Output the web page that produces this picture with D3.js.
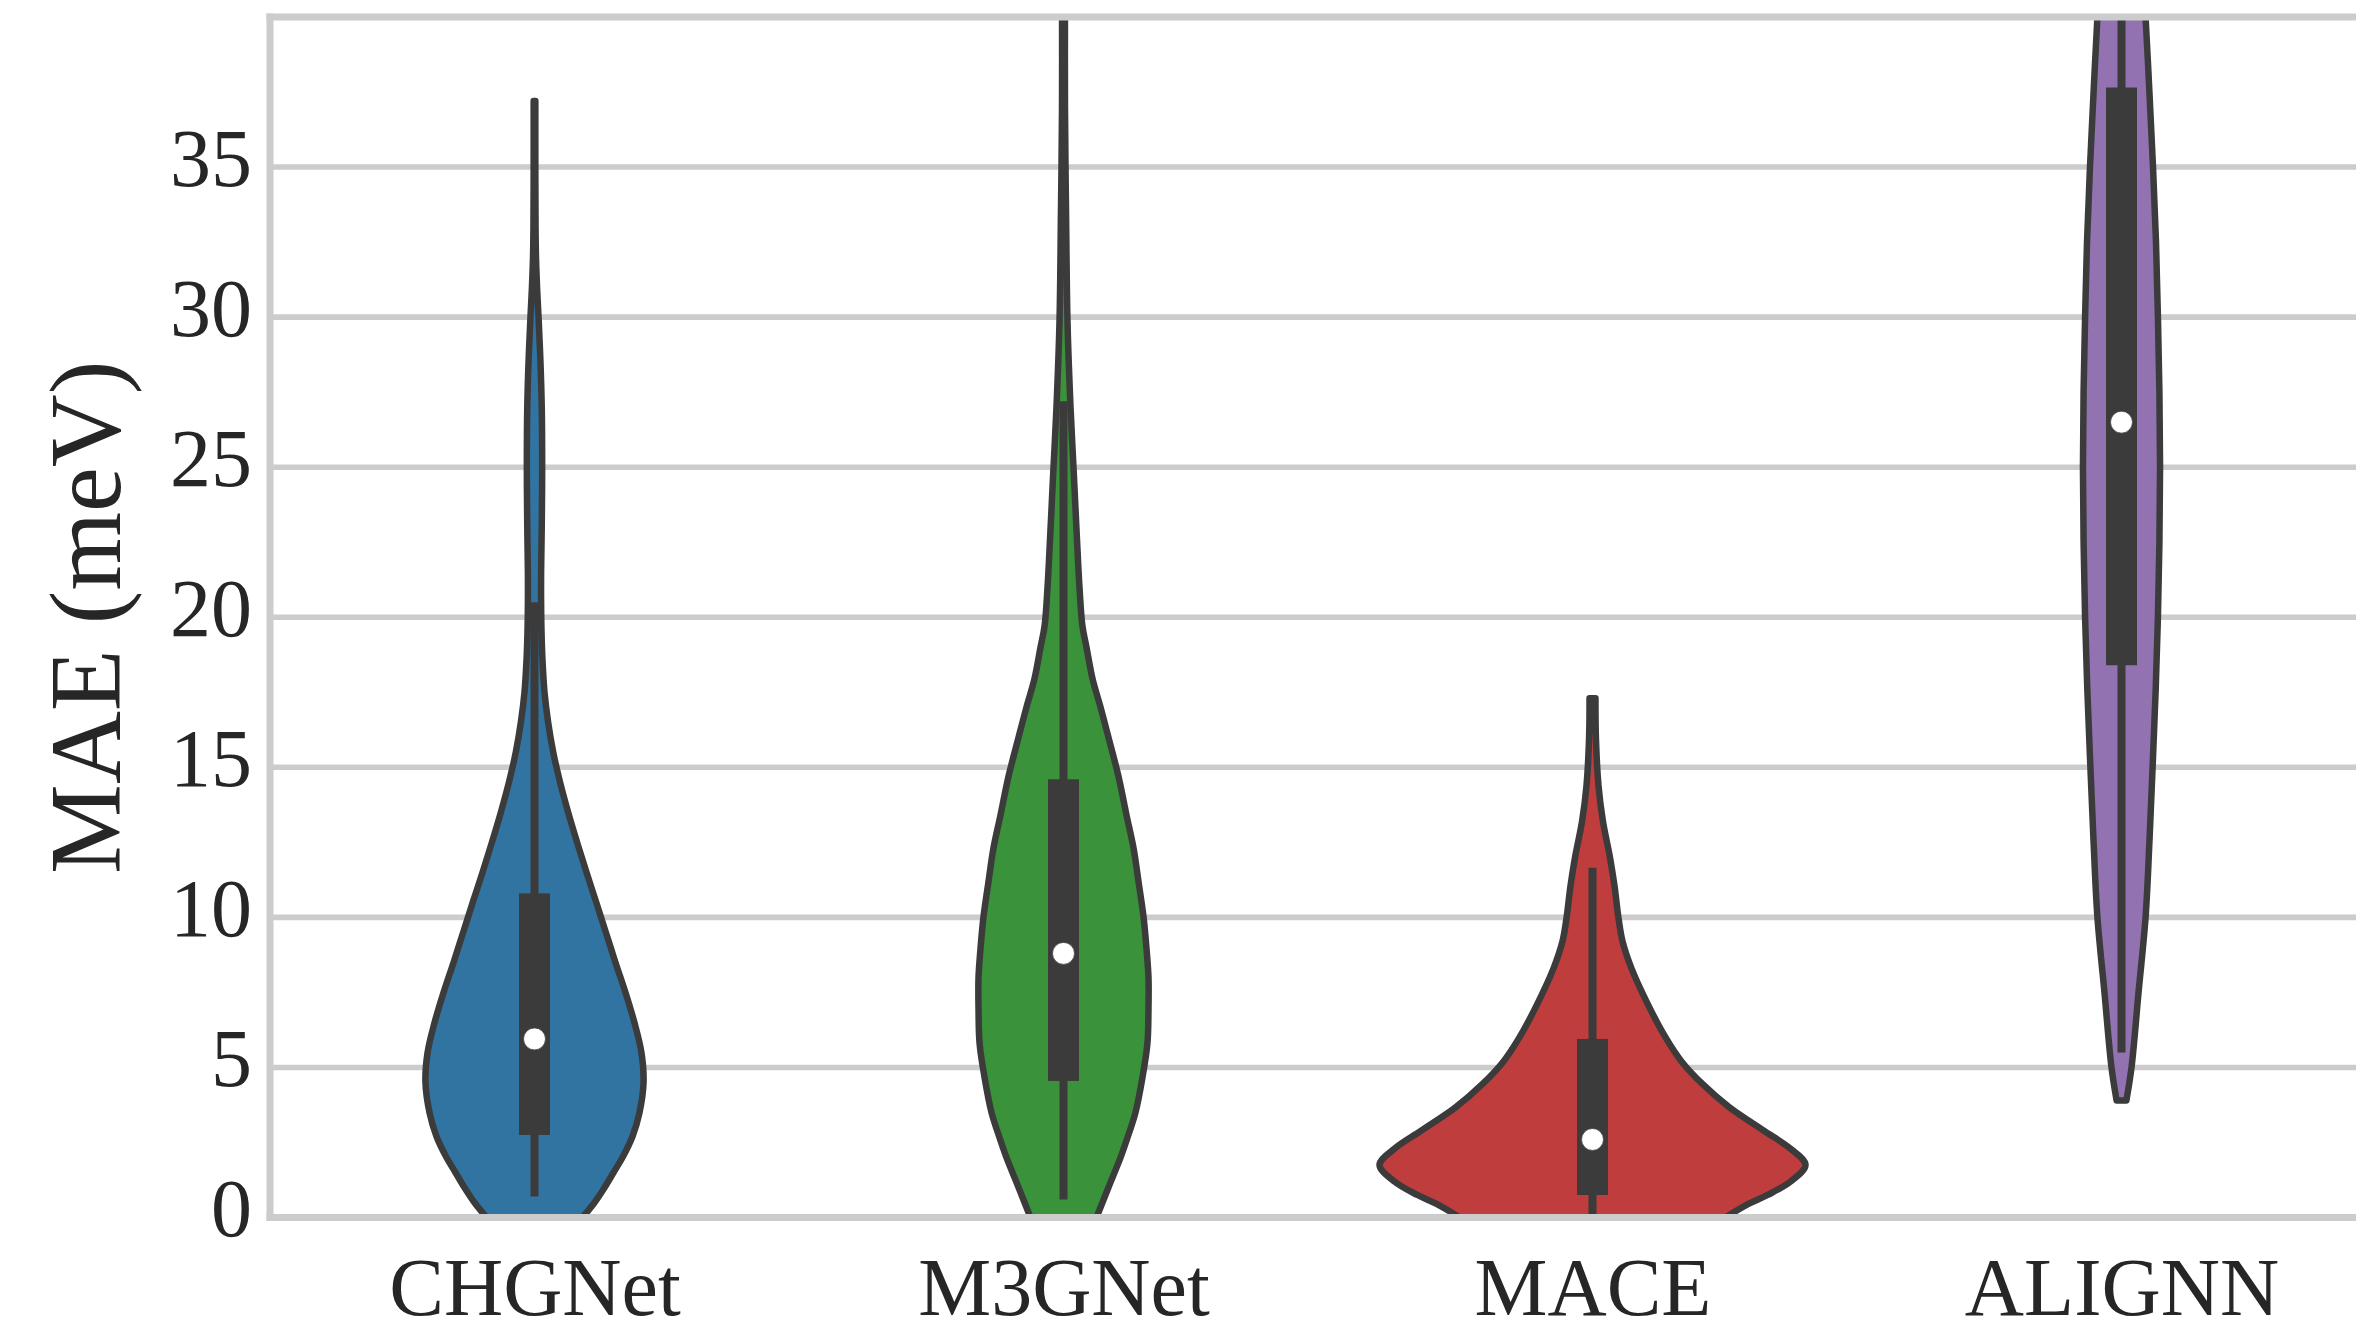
<!DOCTYPE html>
<html>
<head>
<meta charset="utf-8">
<script src="https://cdn.jsdelivr.net/npm/d3@7"></script>
<style>
  html, body { margin: 0; padding: 0; background: #ffffff; }
  svg { display: block; }
</style>
</head>
<body>
<svg id="chart" width="2356" height="1323"></svg>
<script>
// Models shown on the x axis
const models = ["CHGNet", "M3GNet", "MACE", "ALIGNN"];
const yTicks = [0, 5, 10, 15, 20, 25, 30, 35];

// Box summary per model (meV)
const q1 = [2.75, 4.55, 0.75, 18.4];
const medians = [5.95, 8.8, 2.6, 26.5];
const q3 = [10.8, 14.6, 5.95, 37.65];
const whiskerLow = [0.7, 0.6, 0.1, 5.5];
const whiskerHigh = [20.5, 27.2, 11.65, 43];

// Kernel density profiles: [MAE (meV), relative density]
const chgnetDensity = [
  [0, 0.225], [0.5, 0.282], [1, 0.329], [1.5, 0.371], [2, 0.413], [2.7, 0.46],
  [3.5, 0.493], [4.5, 0.512], [5.5, 0.502], [6.5, 0.469], [7.5, 0.427], [8.5, 0.38],
  [9.5, 0.335], [10.5, 0.29], [11.5, 0.244], [12.5, 0.2], [13.5, 0.158], [14.5, 0.12],
  [15.5, 0.088], [16.5, 0.064], [17.5, 0.047], [18.5, 0.038], [19.5, 0.033],
  [20.5, 0.031], [21.5, 0.031], [23, 0.034], [25, 0.036], [27, 0.034], [28.5, 0.028],
  [30, 0.019], [31, 0.012], [32, 0.007], [33, 0.005], [35, 0.004], [37.2, 0.004]
];
const m3gnetDensity = [
  [0, 0.155], [1, 0.211], [2, 0.268], [2.57, 0.296], [3.5, 0.338], [4.68, 0.371],
  [5.8, 0.394], [6.94, 0.399], [8, 0.399], [8.93, 0.39], [10, 0.376], [11.2, 0.352],
  [12.3, 0.329], [13.4, 0.296], [14.7, 0.258], [16, 0.211], [17, 0.174], [17.96, 0.136],
  [19, 0.108], [19.7, 0.089], [21, 0.075], [22.2, 0.066], [24.7, 0.049], [27, 0.033],
  [29.8, 0.019], [33.5, 0.012], [37, 0.007], [41, 0.007]
];
const maceDensity = [
  [0, 0.624], [0.45, 0.732], [0.75, 0.822], [1.2, 0.93], [1.75, 1.0], [2.29, 0.93],
  [2.9, 0.803], [3.67, 0.643], [4.45, 0.516], [5.2, 0.418], [6.0, 0.343], [7.06, 0.263],
  [8.3, 0.183], [9.2, 0.141], [9.98, 0.122], [11.06, 0.103], [12.0, 0.082], [13.2, 0.049],
  [14.4, 0.028], [16.0, 0.016], [17.3, 0.014]
];
const alignnDensity = [
  [3.9, 0.023], [5, 0.047], [7.5, 0.08], [10, 0.113], [12.5, 0.131], [15, 0.146],
  [17.5, 0.16], [20, 0.171], [22.5, 0.178], [25, 0.181], [27.5, 0.178], [30, 0.171],
  [32.5, 0.162], [35, 0.148], [37.5, 0.131], [40, 0.113], [42, 0.094], [43, 0.085]
];
const densities = [chgnetDensity, m3gnetDensity, maceDensity, alignnDensity];

// Palette
const fills = ["#3274a1", "#3a923a", "#c03d3e", "#9372b2"];
const ink = "#3b3b3b";
const gridColor = "#cccccc";
const textColor = "#262626";
const fontFamily = "'Liberation Serif', 'Times New Roman', Times, serif";

// Layout
const plot = { left: 270, right: 2386, top: 17, bottom: 1217.5 };

const svg = d3.select("#chart");

const x = d3.scalePoint().domain(models).range([plot.left, plot.right]).padding(0.5);
const y = d3.scaleLinear().domain([0, 40]).range([plot.bottom, plot.top]);
const halfWidth = d3.scaleLinear().domain([0, 1]).range([0, 213]);

svg.append("defs").append("clipPath").attr("id", "plot-clip")
  .append("rect")
  .attr("x", plot.left).attr("y", plot.top)
  .attr("width", plot.right - plot.left).attr("height", plot.bottom - plot.top);

// Horizontal grid
svg.append("g")
  .selectAll("line")
  .data(yTicks)
  .join("line")
  .attr("x1", plot.left).attr("x2", plot.right)
  .attr("y1", d => y(d)).attr("y2", d => y(d))
  .attr("stroke", gridColor).attr("stroke-width", 5.6);

// Violins and inner boxes
const body = svg.append("g").attr("clip-path", "url(#plot-clip)");

models.forEach((m, i) => {
  const cx = x(m);
  const area = d3.area()
    .curve(d3.curveCatmullRom.alpha(0.5))
    .y(d => y(d[0]))
    .x0(d => cx - halfWidth(d[1]))
    .x1(d => cx + halfWidth(d[1]));

  body.append("path")
    .datum(densities[i])
    .attr("d", area)
    .attr("fill", fills[i])
    .attr("stroke", ink)
    .attr("stroke-width", 6.5)
    .attr("stroke-linejoin", "round");

  body.append("line")
    .attr("x1", cx).attr("x2", cx)
    .attr("y1", y(whiskerLow[i])).attr("y2", y(whiskerHigh[i]))
    .attr("stroke", ink).attr("stroke-width", 8);

  body.append("rect")
    .attr("x", cx - 15.5).attr("width", 31)
    .attr("y", y(q3[i])).attr("height", y(q1[i]) - y(q3[i]))
    .attr("fill", ink);

  body.append("circle")
    .attr("cx", cx).attr("cy", y(medians[i]))
    .attr("r", 11)
    .attr("fill", "#ffffff")
    .attr("stroke", ink)
    .attr("stroke-width", 0.8);
});

// Frame
const frame = svg.append("g")
  .attr("fill", "none").attr("stroke", gridColor).attr("stroke-width", 7)
  .attr("stroke-linecap", "square");
frame.append("line").attr("x1", plot.left).attr("x2", plot.left)
  .attr("y1", plot.top).attr("y2", plot.bottom);
frame.append("line").attr("x1", plot.left).attr("x2", plot.right)
  .attr("y1", plot.bottom).attr("y2", plot.bottom);
frame.append("line").attr("x1", plot.left).attr("x2", plot.right)
  .attr("y1", plot.top).attr("y2", plot.top);

// Y axis labels
const yAxis = svg.append("g")
  .attr("transform", `translate(${plot.left},0)`)
  .call(d3.axisLeft(y).tickValues(yTicks).tickSize(0).tickPadding(18).tickFormat(d3.format("d")));
yAxis.select(".domain").remove();
yAxis.selectAll("text")
  .attr("font-family", fontFamily)
  .attr("font-size", 82)
  .attr("fill", textColor)
  .attr("dy", "0.22em");

// X axis labels
const xAxis = svg.append("g")
  .attr("transform", `translate(0,${plot.bottom})`)
  .call(d3.axisBottom(x).tickSize(0).tickPadding(0));
xAxis.select(".domain").remove();
xAxis.selectAll("text")
  .attr("font-family", fontFamily)
  .attr("font-size", 82)
  .attr("fill", textColor)
  .attr("y", 97.5)
  .attr("dy", 0);

// Y axis title
svg.append("text")
  .attr("transform", `translate(120,${(plot.top + plot.bottom) / 2}) rotate(-90)`)
  .attr("text-anchor", "middle")
  .attr("font-family", fontFamily)
  .attr("font-size", 101)
  .attr("fill", textColor)
  .text("MAE (meV)");
</script>
</body>
</html>
